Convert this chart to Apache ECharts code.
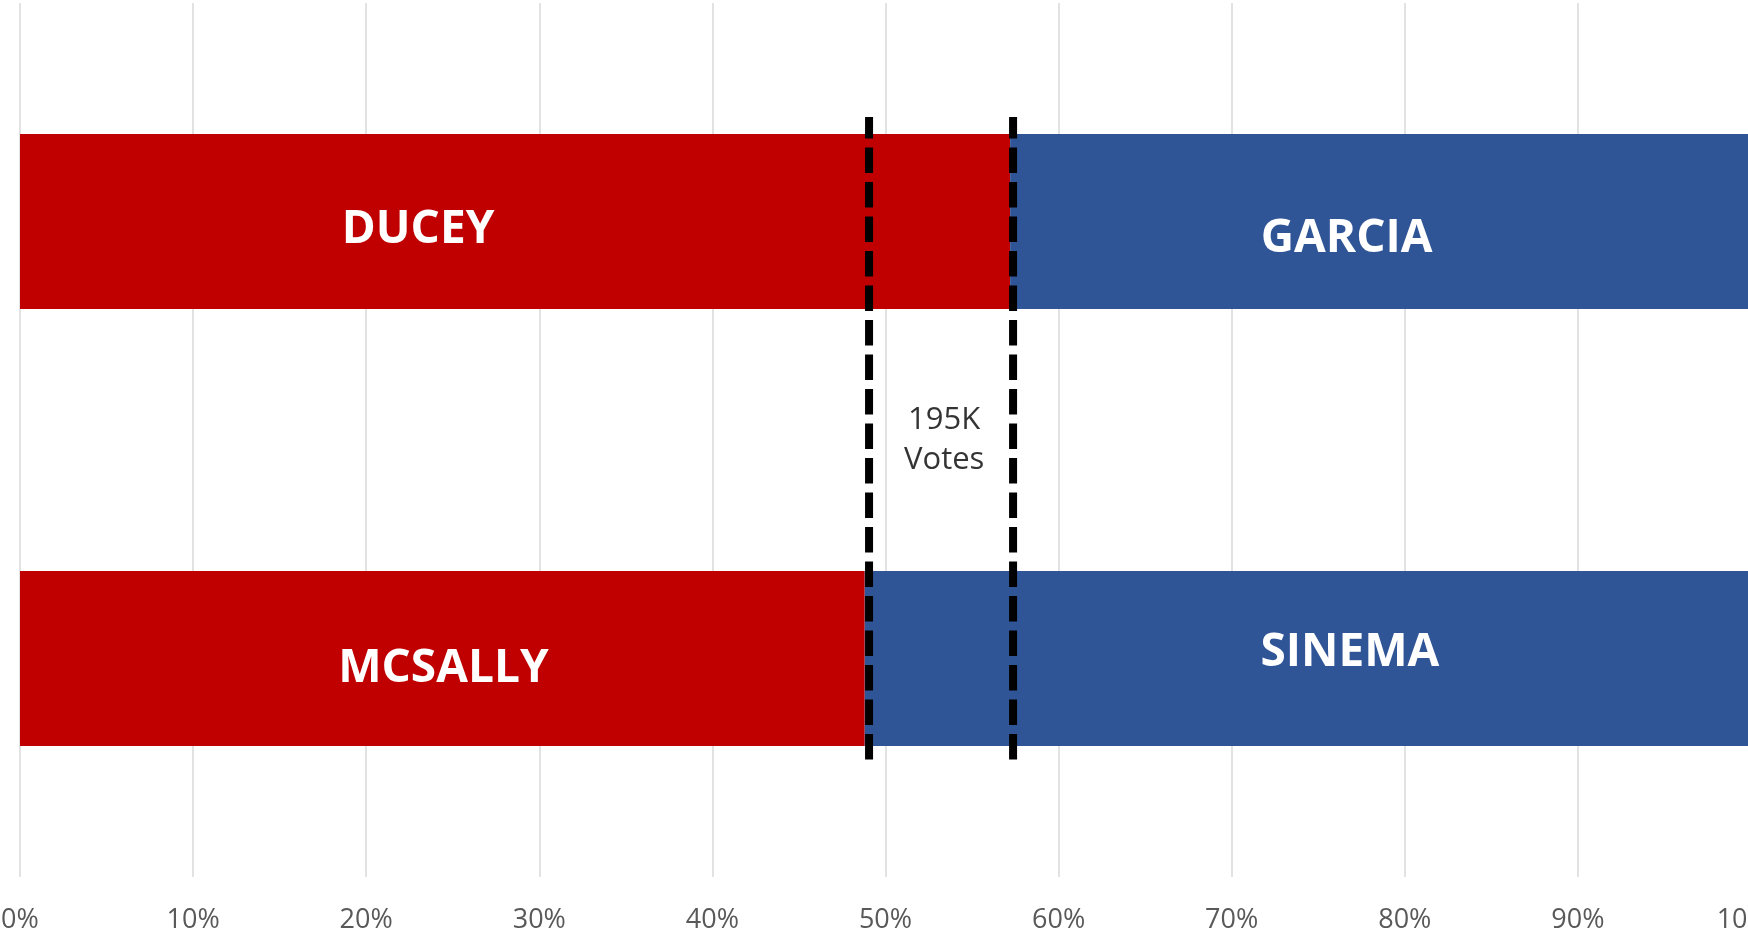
<!DOCTYPE html>
<html>
<head>
<meta charset="utf-8">
<title>Arizona 2018</title>
<script src="https://cdn.jsdelivr.net/npm/echarts@6/dist/echarts.min.js"></script>
<style>
  html, body { margin: 0; padding: 0; background: #fff; }
  #chart { width: 1748px; height: 932px; }
</style>
</head>
<body>
<div id="chart"></div>
<script>
// two races, two-party vote share (%)
const races = ['Governor', 'Senate']
const repNames = ['DUCEY', 'MCSALLY']
const demNames = ['GARCIA', 'SINEMA']
const repShare = [57.2, 48.8]
const demShare = [42.8, 51.2]

// dashed markers at the two Republican shares, with the gap note between them
const markerX = [49.05, 57.37]
const markerSpan = [0.261, 1.732]
const gapNote = '195K\nVotes'

// hand-placed label nudges, as in the original slide
const repOffsets = [[-97, 8], [1, 10]]
const demOffsets = [[-34, 17], [42, -6]]

const FONT = "'Open Sans', sans-serif"
const RED = '#C00000'
const BLUE = '#2F5597'

function barData(values, names, offsets) {
  return values.map((v, i) => ({
    value: v,
    label: { formatter: names[i], offset: offsets[i] }
  }))
}

const nameLabel = {
  show: true,
  position: 'inside',
  color: '#fff',
  fontFamily: FONT,
  fontWeight: 'bold',
  fontSize: 46
}

const markerSeries = markerX.map(x => ({
  type: 'line',
  xAxisIndex: 0,
  yAxisIndex: 1,
  z: 5,
  symbol: 'none',
  silent: true,
  data: [[x, markerSpan[0]], [x, markerSpan[1]]],
  lineStyle: { color: '#000', width: 8, type: [25.5, 9], dashOffset: 4, cap: 'butt' }
}))

const option = {
  animation: false,
  grid: { left: 20, right: -3, top: 3, bottom: 55, containLabel: false, outerBoundsMode: 'none' },
  xAxis: {
    type: 'value',
    min: 0,
    max: 100,
    interval: 10,
    axisLine: { show: false },
    axisTick: { show: false },
    axisLabel: {
      formatter: '{value}%',
      color: '#595959',
      fontFamily: FONT,
      fontSize: 27,
      margin: 30,
      hideOverlap: false
    },
    splitLine: { lineStyle: { color: '#d9d9d9', width: 1.5 } }
  },
  yAxis: [
    {
      type: 'category',
      data: races,
      inverse: true,
      axisLine: { show: false },
      axisTick: { show: false },
      axisLabel: { show: false },
      splitLine: { show: false }
    },
    { type: 'value', min: 0, max: 2, inverse: true, show: false }
  ],
  series: [
    {
      name: 'Republican',
      type: 'bar',
      stack: 'race',
      barWidth: '40%',
      itemStyle: { color: RED },
      label: nameLabel,
      data: barData(repShare, repNames, repOffsets)
    },
    {
      name: 'Democrat',
      type: 'bar',
      stack: 'race',
      barWidth: '40%',
      itemStyle: { color: BLUE },
      label: nameLabel,
      data: barData(demShare, demNames, demOffsets)
    },
    ...markerSeries,
    {
      type: 'scatter',
      xAxisIndex: 0,
      yAxisIndex: 1,
      symbolSize: 0,
      silent: true,
      z: 6,
      data: [[(markerX[0] + markerX[1]) / 2 + 0.18, 1.0]],
      label: {
        show: true,
        position: 'inside',
        formatter: gapNote,
        color: '#000',
        fontFamily: FONT,
        fontSize: 31,
        lineHeight: 40,
        align: 'center'
      }
    }
  ]
}

const chart = echarts.init(document.getElementById('chart'))
chart.setOption(option)
window.addEventListener('resize', () => chart.resize())
</script>
</body>
</html>
